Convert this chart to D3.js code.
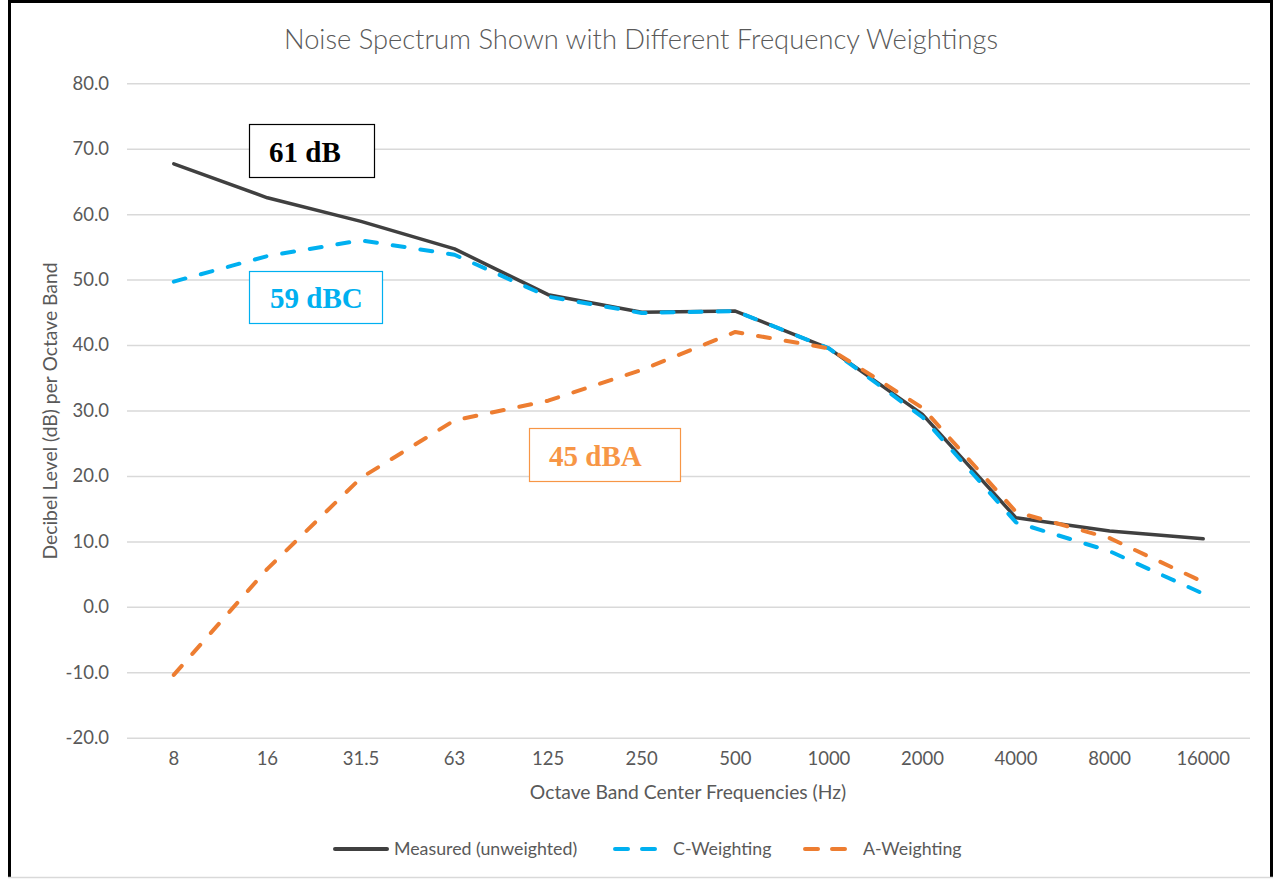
<!DOCTYPE html>
<html>
<head>
<meta charset="utf-8">
<script src="https://cdn.jsdelivr.net/npm/d3@7"></script>
<style>
  html, body { margin: 0; padding: 0; background: #fff; }
  svg { display: block; }
</style>
</head>
<body>
<svg id="chart" width="1275" height="879"></svg>
<script>
// ---- data ----
const categories = ["8", "16", "31.5", "63", "125", "250", "500", "1000", "2000", "4000", "8000", "16000"];
const measured   = [67.7, 62.5, 58.9, 54.7, 47.7, 45.0, 45.2, 39.5, 29.4, 13.6, 11.6, 10.4];
const cWeighting = [49.7, 53.6, 56.0, 53.8, 47.4, 44.9, 45.2, 39.5, 29.0, 12.9, 8.5, 2.0];
const aWeighting = [-10.4, 5.8, 19.7, 28.5, 31.5, 36.2, 42.0, 39.5, 30.4, 14.5, 10.5, 3.8];
const yTicks = [80, 70, 60, 50, 40, 30, 20, 10, 0, -10, -20];
const seriesNames = ["Measured (unweighted)", "C-Weighting", "A-Weighting"];
const annotations = ["61 dB", "59 dBC", "45 dBA"];

const title = "Noise Spectrum Shown with Different Frequency Weightings";
const xTitle = "Octave Band Center Frequencies (Hz)";
const yTitle = "Decibel Level (dB) per Octave Band";

// ---- layout ----
const svg = d3.select("#chart");
const W = 1275, H = 879;
const plot = { left: 127, right: 1250, top: 83.3, bottom: 737.7 };
const sans = "Lato, Carlito, Calibri, 'Open Sans', sans-serif";
const serif = "'Palatino Linotype', 'Book Antiqua', Palatino, 'Liberation Serif', 'DejaVu Serif', serif";
const gray = "#595959";

svg.append("rect").attr("width", W).attr("height", H).attr("fill", "#fff");

// frame
svg.append("line").attr("x1", 9.5).attr("x2", 9.5).attr("y1", 0).attr("y2", 878)
  .attr("stroke", "#000").attr("stroke-width", 3);
svg.append("line").attr("x1", 8).attr("x2", 1273).attr("y1", 1.5).attr("y2", 1.5)
  .attr("stroke", "#000").attr("stroke-width", 3);
svg.append("line").attr("x1", 1271.5).attr("x2", 1271.5).attr("y1", 0).attr("y2", 878)
  .attr("stroke", "#000").attr("stroke-width", 3);
svg.append("line").attr("x1", 8).attr("x2", 1273).attr("y1", 877.5).attr("y2", 877.5)
  .attr("stroke", "#d9d9d9").attr("stroke-width", 1.5);

const x = d3.scaleBand().domain(categories).range([plot.left, plot.right]);
const y = d3.scaleLinear().domain([-20, 80]).range([plot.bottom, plot.top]);
const cx = c => x(c) + x.bandwidth() / 2;

// gridlines + y labels via axis
const yAxis = d3.axisLeft(y).tickValues(yTicks).tickFormat(d => d.toFixed(1))
  .tickSize(-(plot.right - plot.left)).tickPadding(18);
const gy = svg.append("g").attr("transform", `translate(${plot.left},0)`).call(yAxis);
gy.select(".domain").remove();
gy.selectAll(".tick line").attr("stroke", "#d9d9d9").attr("stroke-width", 1.5);
gy.selectAll(".tick text").attr("fill", gray).attr("font-family", sans).attr("font-size", 18.5);

// x labels via axis (no lines)
const xAxis = d3.axisBottom(x).tickSize(0).tickPadding(14);
const gx = svg.append("g").attr("transform", `translate(0,${plot.bottom})`).call(xAxis);
gx.select(".domain").remove();
gx.selectAll(".tick text").attr("fill", gray).attr("font-family", sans).attr("font-size", 18.5);

// titles
svg.append("text").attr("x", 641).attr("y", 49).attr("text-anchor", "middle")
  .attr("font-family", sans).attr("font-weight", 300).attr("font-size", 27.3).attr("fill", gray)
  .text(title);
svg.append("text").attr("x", 688).attr("y", 799).attr("text-anchor", "middle")
  .attr("font-family", sans).attr("font-size", 19.3).attr("fill", gray).text(xTitle);
svg.append("text").attr("transform", "translate(57,411) rotate(-90)").attr("text-anchor", "middle")
  .attr("font-family", sans).attr("font-size", 19.3).attr("fill", gray).text(yTitle);

// lines
const line = d3.line().x((d, i) => cx(categories[i])).y(d => y(d));
const series = [
  { name: seriesNames[0], values: measured,   color: "#404040", dash: null,     width: 3.5 },
  { name: seriesNames[1], values: cWeighting, color: "#00b0f0", dash: "12,16",  width: 4 },
  { name: seriesNames[2], values: aWeighting, color: "#ed7d31", dash: "12,16",  width: 4 }
];
series.forEach(s => {
  svg.append("path").datum(s.values).attr("d", line)
    .attr("fill", "none").attr("stroke", s.color).attr("stroke-width", s.width)
    .attr("stroke-linejoin", "round").attr("stroke-linecap", "round")
    .attr("stroke-dasharray", s.dash);
});

// annotation boxes
const boxes = [
  { text: annotations[0], x: 249.5, y: 124.5, w: 125, h: 53, color: "#000", stroke: "#000", tx: 269, ty: 162 },
  { text: annotations[1], x: 249.5, y: 271.5, w: 133, h: 52, color: "#00b0f0", stroke: "#00b0f0", tx: 270, ty: 308 },
  { text: annotations[2], x: 529.5, y: 428.5, w: 151, h: 53, color: "#f79646", stroke: "#f79646", tx: 549, ty: 466 }
];
boxes.forEach(b => {
  svg.append("rect").attr("x", b.x).attr("y", b.y).attr("width", b.w).attr("height", b.h)
    .attr("fill", "#fff").attr("stroke", b.stroke).attr("stroke-width", 1.2);
  svg.append("text").attr("x", b.tx).attr("y", b.ty).attr("font-family", serif).attr("font-weight", "bold")
    .attr("font-size", 29).attr("fill", b.color).text(b.text);
});

// legend
const legendY = 849;
const legendItems = [
  { s: series[0], x1: 335, x2: 387, tx: 394, dash: null },
  { s: series[1], x1: 615, x2: 655, tx: 673, dash: "13,14" },
  { s: series[2], x1: 805, x2: 845, tx: 863, dash: "13,14" }
];
legendItems.forEach(it => {
  svg.append("line").attr("x1", it.x1).attr("x2", it.x2).attr("y1", legendY).attr("y2", legendY)
    .attr("stroke", it.s.color).attr("stroke-width", 4).attr("stroke-linecap", "round")
    .attr("stroke-dasharray", it.dash);
  svg.append("text").attr("x", it.tx).attr("y", legendY + 6).attr("font-family", sans)
    .attr("font-size", 17.8).attr("fill", gray).text(it.s.name);
});
</script>
</body>
</html>
